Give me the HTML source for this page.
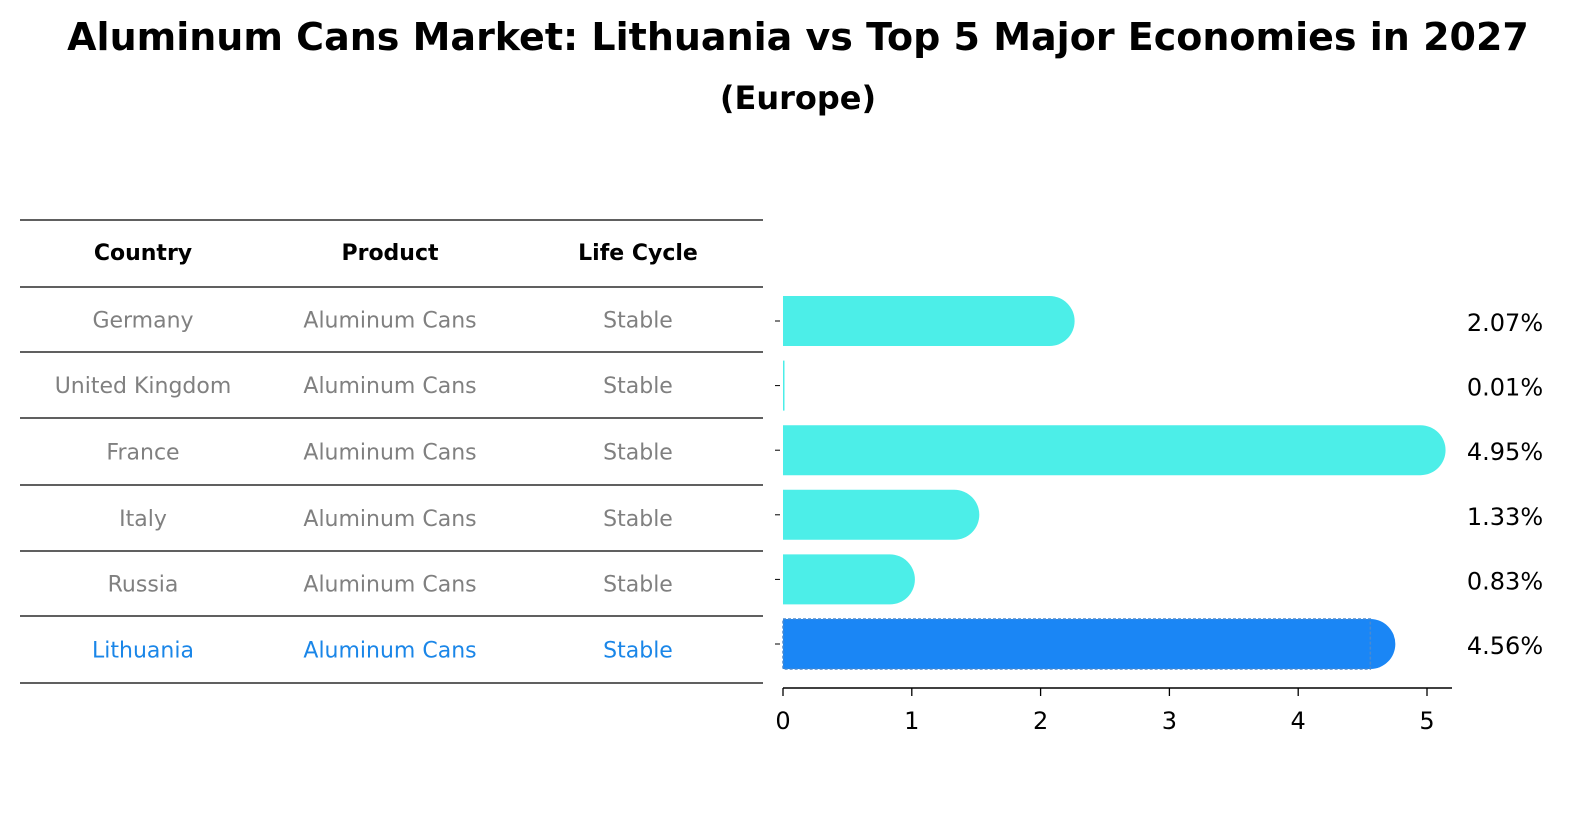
<!DOCTYPE html>
<html><head><meta charset="utf-8"><style>
body{margin:0;background:#fff;font-family:"DejaVu Sans","Liberation Sans",sans-serif;}
svg{display:block}
</style></head><body>
<svg width="1586" height="823" xmlns="http://www.w3.org/2000/svg" font-family="DejaVu Sans, sans-serif">
<text x="798" y="50" text-anchor="middle" font-size="38" font-weight="bold">Aluminum Cans Market: Lithuania vs Top 5 Major Economies in 2027</text>
<text x="798" y="109" text-anchor="middle" font-size="32" font-weight="bold">(Europe)</text>
<g id="table"></g>
<g id="bars"></g>
<g id="axis"></g>
</svg>
<script>
const countries=["Germany","United Kingdom","France","Italy","Russia","Lithuania"];
const products=["Aluminum Cans","Aluminum Cans","Aluminum Cans","Aluminum Cans","Aluminum Cans","Aluminum Cans"];
const lifeCycles=["Stable","Stable","Stable","Stable","Stable","Stable"];
const values=[2.07,0.01,4.95,1.33,0.83,4.56];
const valueLabels=["2.07%","0.01%","4.95%","1.33%","0.83%","4.56%"];
const ticks=[0,1,2,3,4,5];
const NS="http://www.w3.org/2000/svg";
function mk(tag,attrs,parent){const e=document.createElementNS(NS,tag);for(const k in attrs)e.setAttribute(k,attrs[k]);parent.appendChild(e);return e;}
const x0=783,scale=(1427-783)/5;
const xs=v=>x0+v*scale;
const rowY=i=>321+i*64.6;
const tbl=document.getElementById('table');
const lines=[220,287,352,418,485,551,616,683];
lines.forEach((y,i)=>{const l=mk('line',{x1:20,x2:763,y1:y,y2:y,stroke:'#000','stroke-width':1.2},tbl);

});
const colX=[143,390,638];
["Country","Product","Life Cycle"].forEach((h,i)=>{const t=mk('text',{x:colX[i],y:260,'text-anchor':'middle','font-size':22,'font-weight':'bold'},tbl);t.textContent=h;

});
countries.forEach((c,i)=>{const y=(lines[i+1]+lines[i+2])/2+8;const col=i===countries.length-1?'#1a86e8':'#808080';
[c,products[i],lifeCycles[i]].forEach((s,j)=>{const t=mk('text',{x:colX[j],y:y,'text-anchor':'middle','font-size':22,fill:col},tbl);t.textContent=s;

});});
const bars=document.getElementById('bars');
const h=50;
values.forEach((v,i)=>{const cy=rowY(i);const w=xs(v)-x0;const last=i===values.length-1;const fill=last?'#1a86f5':'#4ceee8';
const g=mk('g',{},bars);


if(w<5){mk('rect',{x:x0,y:cy-h/2,width:Math.max(w,1.5),height:h,fill:fill},g);}
else{mk('path',{d:`M${x0},${cy-h/2} H${x0+w} A${h/2},${h/2} 0 0 1 ${x0+w},${cy+h/2} H${x0} Z`,fill:fill},g);
if(last)mk('rect',{x:x0,y:cy-h/2,width:w,height:h,fill:'none',stroke:'#4a8ad0','stroke-width':1.5,'stroke-dasharray':'3,2'},g);}
const t=mk('text',{x:1505,y:cy+10,'text-anchor':'middle','font-size':24},bars);t.textContent=valueLabels[i];


const tk=mk('line',{x1:x0-8,x2:x0-3,y1:cy,y2:cy,stroke:'#000','stroke-width':1},bars);

});
const ax=document.getElementById('axis');
const al=mk('line',{x1:x0,x2:1452,y1:688,y2:688,stroke:'#000','stroke-width':1.5},ax);


ticks.forEach(v=>{const tl=mk('line',{x1:xs(v),x2:xs(v),y1:688,y2:696,stroke:'#000','stroke-width':1.3},ax);


const t=mk('text',{x:xs(v),y:729,'text-anchor':'middle','font-size':24},ax);t.textContent=v;

});
</script>
</body></html>
